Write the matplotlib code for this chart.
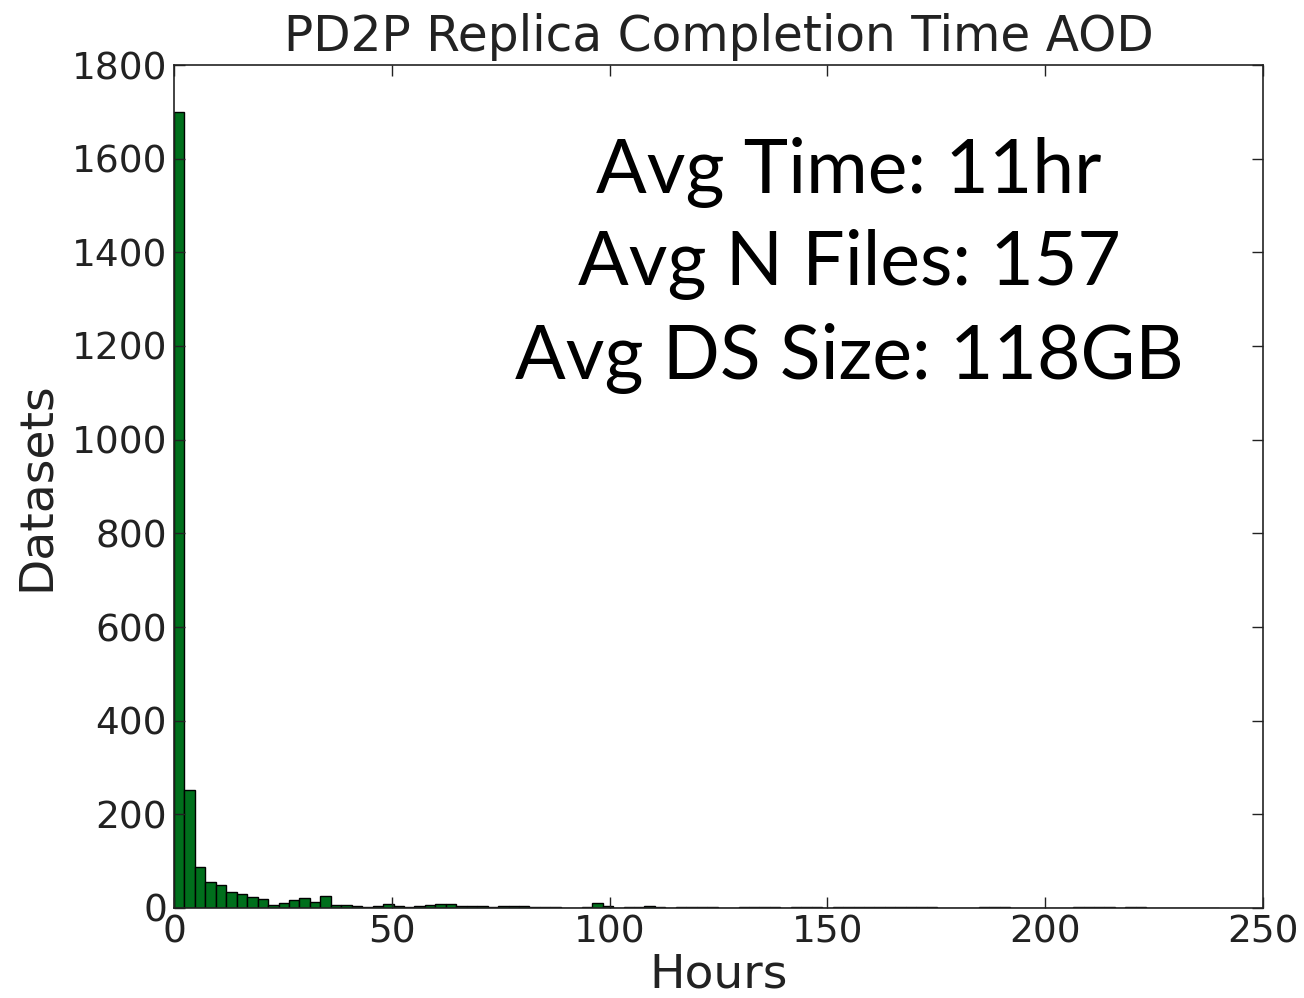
import numpy as np
import matplotlib
matplotlib.use("Agg")
import matplotlib.pyplot as plt

# Histogram bin edges (hours) and counts per bin
bin_width = 2.4
n_bins = 100
counts = [
    1700, 253, 88, 55, 50, 35, 30, 23, 19, 7,
    11, 17, 21, 13, 25, 7, 6, 4, 3, 4,
    8, 5, 2, 4, 7, 8, 8, 5, 5, 4,
    2, 5, 4, 5, 3, 2, 2, 1, 1, 3,
    11, 4, 1, 2, 3, 5, 3, 1, 2, 3,
    2, 3, 1, 1, 2, 2, 2, 2, 1, 2,
    2, 2, 1, 3, 3, 2, 3, 3, 2, 3,
    3, 3, 3, 1, 1, 1, 1, 3, 3, 3,
    1, 1, 1, 1, 1, 1, 3, 3, 3, 3,
    1, 3, 3, 1, 1, 1, 1, 1, 0, 0,
]
bin_edges = np.arange(n_bins + 1) * bin_width

title = "PD2P Replica Completion Time AOD"
xlabel = "Hours"
ylabel = "Datasets"
annotation_lines = ["Avg Time: 11hr", "Avg N Files: 157", "Avg DS Size: 118GB"]

fig = plt.figure(figsize=(13.04, 9.98), dpi=100)
ax = fig.add_axes([174/1304, 1-908/998, (1263-174)/1304, (908-65)/998])

ax.hist(bin_edges[:-1], bins=bin_edges, weights=counts,
        color="#006f1c", edgecolor="black", linewidth=1.0)

ax.set_xlim(0, 250)
ax.set_ylim(0, 1800)
ax.set_xticks(np.arange(0, 251, 50))
ax.set_yticks(np.arange(0, 1801, 200))
ax.tick_params(direction="in", top=True, right=True, length=8, width=1,
               labelsize=27, pad=5, colors="#222222", labelcolor="#222222")
for s in ax.spines.values():
    s.set_linewidth(1.2)
    s.set_color("#222222")

ax.set_title(title, fontsize=35, color="#222222", pad=10)
ax.set_xlabel(xlabel, fontsize=34, color="#222222")
ax.set_ylabel(ylabel, fontsize=34, color="#222222")
ax.yaxis.set_label_coords((36 - 174) / 1089, 0.5)
ax.xaxis.label.set_va("center")
ax.yaxis.label.set_va("center")
ax.xaxis.set_label_coords(0.5, -(975 - 908) / 843)

y_pos = [172, 265, 358]
for line, yp in zip(annotation_lines, y_pos):
    fig.text(849/1304, 1 - yp/998, line, fontsize=54, family="Lato",
             ha="center", va="center", color="black")

fig.savefig("out.png", dpi=100)
